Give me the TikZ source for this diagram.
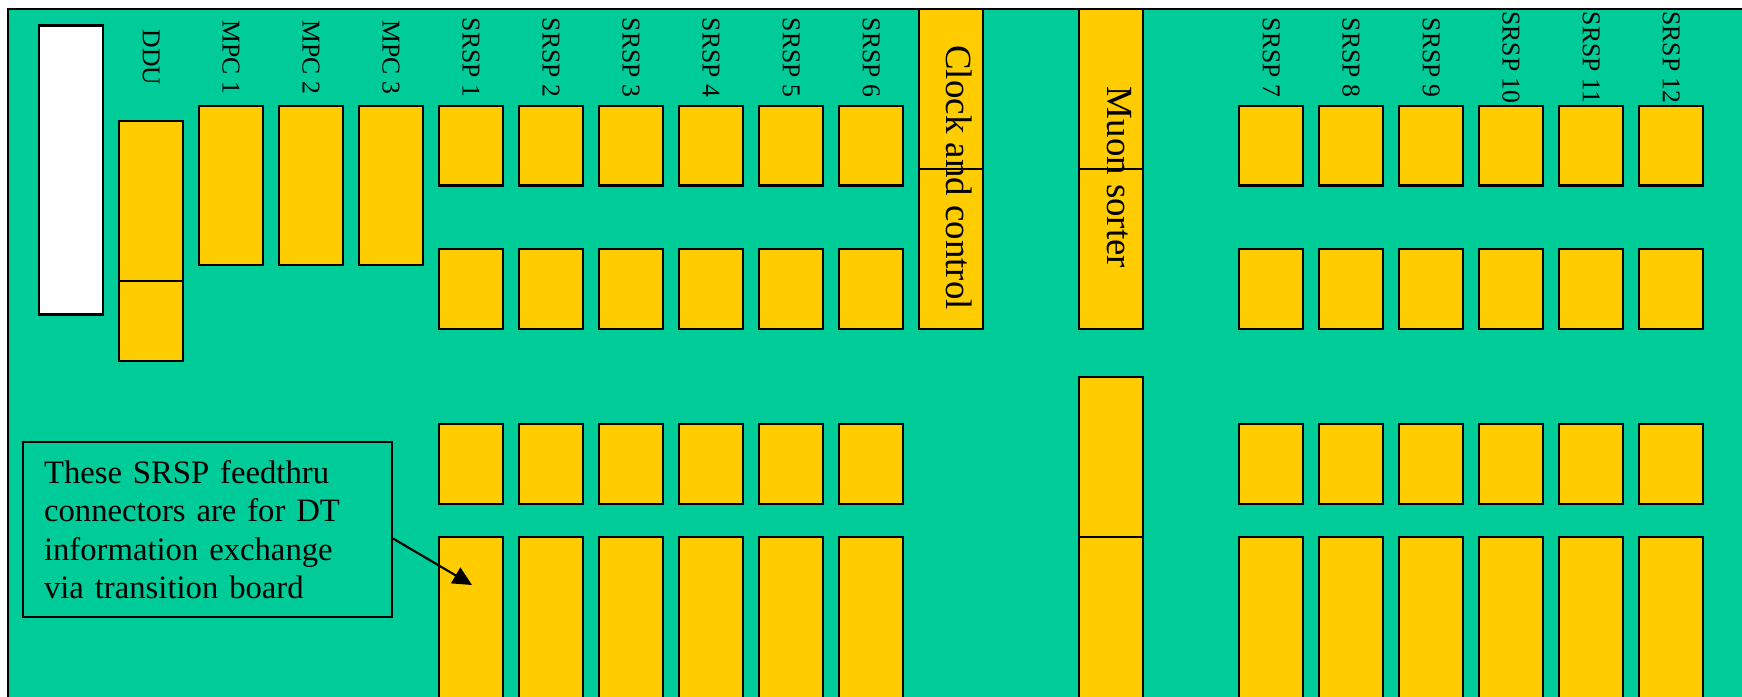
\documentclass[tikz,border=0pt]{standalone}
\usepackage{fontspec}
\setmainfont{Liberation Serif}
\usepackage{xcolor}
\usepackage{tikz}
\usetikzlibrary{arrows.meta,positioning,calc}
\definecolor{boardgreen}{HTML}{00CC99}
\definecolor{chipyellow}{HTML}{FFCC00}
\tikzset{
  slot/.style={draw, fill=chipyellow, line width=0.6pt, minimum width=6.44mm, inner sep=0, outer sep=0, anchor=north},
  blank/.style={draw, fill=white, line width=0.6pt, minimum width=6.44mm, inner sep=0, anchor=north},
  tag/.style={rotate=-90, inner sep=0, font=\fontsize{7.3}{8.8}\selectfont},
  bigtag/.style={rotate=-90, inner sep=0, font=\fontsize{10.5}{12.6}\selectfont},
  note/.style={draw, line width=0.6pt, align=left, anchor=north west, minimum height=1.75cm, text width=3.27cm, inner xsep=2.1mm, font=\fontsize{9.3}{10.9}\selectfont},
  pointer/.style={-{Triangle[length=1.9mm, width=1.8mm]}, line width=0.6pt}
}

\begin{document}
\begin{tikzpicture}
        \useasboundingbox (0,0) rectangle (17.42,-6.96);
        \clip (0,0) rectangle (17.42,-6.96);
        \fill[white] (0,0) rectangle (17.42,-6.96);
        % crate backplane
        \filldraw[fill=boardgreen, line width=0.6pt] (0.08,-0.09) rectangle (18,-7.5);
        \node[blank, minimum height=2.89cm] (panel) at (0.711,-0.244) {};
        % DDU and MPC
        \node[slot, minimum height=1.60cm] (ddua) at (1.511,-1.21) {};
        \node[slot, minimum height=0.80cm, below=0pt of ddua] (ddub) {};
        \node[tag] (ddutag) at (1.511,-0.575) {DDU};
        \foreach \i [evaluate=\i as \x using {1.511+0.8*\i}] in {1,2,3} {
          \node[slot, minimum height=1.59cm] (mpc\i) at (\x,-1.06) {};
          \node[tag] (mpctag\i) at (\x,-0.575) {MPC \i};
        }
        % SRSP slots
        \foreach \i [evaluate=\i as \x using {3.911+0.8*\i+3.2*(\i>6)}] in {1,...,12} {
          \node[slot, minimum height=0.795cm] (srspa\i) at (\x,-1.06) {};
          \node[slot, minimum height=0.80cm] (srspb\i) at (\x,-2.49) {};
          \node[slot, minimum height=0.80cm] (srspc\i) at (\x,-4.24) {};
          \node[slot, minimum height=2.0cm] (srspd\i) at (\x,-5.37) {};
          \node[tag] (srsptag\i) at (\x,-0.575) {SRSP \i};
        }
        % clock and sorter
        \node[slot, minimum height=1.60cm] (clka) at (9.511,-0.09) {};
        \node[slot, minimum height=1.60cm, below=0pt of clka] (clkb) {};
        \node[bigtag] (clktag) at (9.59,-1.775) {Clock and control};
        \node[slot, minimum height=1.60cm] (sorta) at (11.111,-0.09) {};
        \node[slot, minimum height=1.60cm, below=0pt of sorta] (sortb) {};
        \node[bigtag] (sorttag) at (11.195,-1.775) {Muon sorter};
        \node[slot, minimum height=1.60cm] (sortc) at (11.111,-3.77) {};
        \node[slot, minimum height=2.0cm, below=0pt of sortc] (sortd) {};
        % callout
        \node[note] (callout) at (0.22,-4.41) {These SRSP feedthru\\connectors are for DT\\information exchange\\via transition board};
        \coordinate (tip) at (4.72,-5.85);
        \draw[pointer] ([yshift=-0.9mm]callout.east) -- (tip);
      \end{tikzpicture}
\end{document}
